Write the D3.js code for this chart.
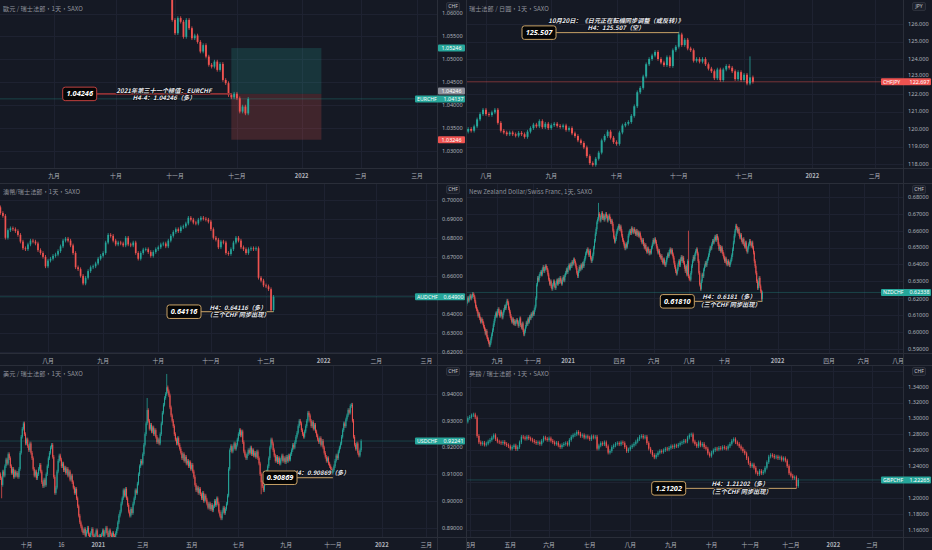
<!DOCTYPE html>
<html>
<head>
<meta charset="utf-8">
<script src="https://cdn.jsdelivr.net/npm/d3@7"></script>
<style>
html,body{margin:0;padding:0;background:#151924;}
svg{display:block;}
text{font-family:"Noto Sans","Noto Sans CJK TC",sans-serif;}
</style>
</head>
<body>
<svg id="chart" width="932" height="550"></svg>
<script>
// ---- data: daily closes (open = previous close) ----
var eurchfStart = "2021-10-29", eurchfOpen = 1.0680;
var eurchfClose = [1.0586,1.0557,1.0590,1.0582,1.0549,1.0586,1.0568,1.0546,1.0552,1.0538,1.0517,1.0531,1.0506,1.0488,1.0484,1.0495,1.0477,1.0490,1.0455,1.0448,1.0422,1.0417,1.0425,1.0415,1.0386,1.0397,1.0382,1.04137];
var eurchfSpikes = [];
var eurchfTicks = [1.030,1.035,1.040,1.045,1.050,1.055,1.060];
var eurchfMonths = [["2021-09-01","九月"],["2021-10-01","十月"],["2021-11-01","十一月"],["2021-12-01","十二月"],["2022-01-03","2022"],["2022-02-01","二月"],["2022-03-01","三月"]];

var chfjpyStart = "2021-07-23", chfjpyOpen = 119.85;
var chfjpyClose = [120.00,119.90,120.15,120.55,120.85,121.10,
  120.85,120.80,120.95,121.10,120.35, 119.90,119.80,119.70,119.80,119.70,
  119.62,119.78,119.70,119.55,119.85, 120.05,120.25,120.15,120.45,120.10, 120.30,120.05,
  120.22,120.30,120.18, 120.12,120.20,119.95,120.05,119.75, 119.60,119.35,119.20,118.95,118.45,
  118.05,117.95,118.30,118.65,
  119.35,119.60,119.85,119.50,119.25,119.15,119.80,120.20,120.30,120.40,120.75,121.30,122.10,122.35,
  123.00,123.70,124.00,124.20,124.40,124.00,123.80,123.65,124.10,123.60,124.50,124.70,125.40,124.80,
  125.10,124.60,124.50,123.90,124.00,123.85,124.00,123.70,123.45,123.30,122.90,123.40,122.80,123.40,
  123.60,123.50,123.30,122.85,123.25,122.80,123.10,122.60,122.95,122.697];
var chfjpySpikes = [[71,125.56],[95,124.15],[42,117.85]];
var chfjpyTicks = [118,119,120,121,122,123,124,125,126];
var chfjpyMonths = [["2021-08-02","八月"],["2021-09-01","九月"],["2021-10-01","十月"],["2021-11-01","十一月"],["2021-12-01","十二月"],["2022-01-03","2022"],["2022-02-01","二月"]];

var audchfStart = "2021-07-06", audchfOpen = 0.6960;
var audchfClose = [0.6930,0.6915,0.6800,0.6840,0.6850,0.6845,0.6835,0.6815,0.6780,0.6745,
  0.6740,0.6765,0.6785,0.6780,0.6770,0.6735,0.6720,0.6700,0.6650,0.6680,
  0.6690,0.6705,0.6712,0.6730,0.6755,0.6785,0.6795,0.6785,0.6760,0.6720,
  0.6645,0.6635,0.6600,0.6560,0.6590,0.6625,0.6645,0.6650,0.6665,0.6690,
  0.6705,0.6720,0.6775,0.6815,0.6810,0.6785,0.6765,0.6775,0.6770,0.6760,
  0.6800,0.6765,0.6760,0.6775,0.6720,0.6690,0.6720,0.6738,0.6740,0.6725,
  0.6705,0.6725,0.6740,0.6750,0.6765,0.6770,0.6755,0.6785,0.6810,0.6830,
  0.6845,0.6835,0.6855,0.6860,0.6875,0.6905,0.6895,0.6880,0.6875,0.6895,
  0.6905,0.6900,0.6895,0.6885,0.6845,0.6800,0.6790,0.6750,0.6780,0.6775,
  0.6720,0.6715,0.6740,0.6775,0.6800,0.6785,0.6750,0.6740,0.6720,0.6740,
  0.6745,0.6740,0.6745,0.6590,0.6575,0.6550,0.6545,0.6530,0.6420,0.6490];
var audchfSpikes = [[108,0.6412]];
var audchfTicks = [0.62,0.63,0.64,0.65,0.66,0.67,0.68,0.69,0.70];
var audchfMonths = [["2021-08-02","八月"],["2021-09-01","九月"],["2021-10-01","十月"],["2021-11-01","十一月"],["2021-12-01","十二月"],["2022-01-03","2022"],["2022-02-01","二月"],["2022-03-01","三月"]];

var nzdchfStart = "2020-07-08", nzdchfOpen = 0.6190;
var nzdchfClose = [0.6165,0.6180,0.6200,0.6185,0.6205,0.6215,0.6198,0.6210,0.6225,0.6218,0.6205,
  0.6180,0.6150,0.6135,0.6120,0.6095,0.6105,0.6080,0.6060,0.6075,0.6065,
  0.6050,0.6030,0.6015,0.5990,0.6005,0.5970,0.5955,0.5940,0.5920,0.5935,0.5960,
  0.5985,0.6010,0.6040,0.6065,0.6090,0.6110,0.6095,0.6125,0.6135,
  0.6110,0.6095,0.6120,0.6105,0.6085,0.6110,0.6130,0.6150,0.6140,0.6165,0.6185,0.6170,
  0.6140,0.6120,0.6095,0.6080,0.6060,0.6075,0.6050,0.6065,0.6045,0.6060,
  0.6070,0.6055,0.6035,0.6060,0.6080,0.6040,0.6025,0.6050,0.6010,0.5985,
  0.6005,0.6030,0.6055,0.6045,0.6075,0.6060,0.6090,0.6080,0.6105,0.6095,0.6115,0.6105,0.6130,0.6150,
  0.6200,0.6280,0.6320,0.6305,0.6330,0.6345,
  0.6355,0.6340,0.6370,0.6385,0.6360,0.6375,0.6390,0.6380,0.6365,
  0.6340,0.6310,0.6285,0.6300,0.6270,0.6255,0.6280,0.6300,0.6275,0.6260,0.6290,
  0.6305,0.6285,0.6310,0.6295,0.6320,0.6300,0.6285,0.6310,0.6325,0.6305,0.6335,0.6350,
  0.6370,0.6355,0.6380,0.6395,0.6375,0.6400,0.6390,0.6415,0.6405,0.6430,0.6420,0.6400,0.6380,
  0.6350,0.6330,0.6360,0.6385,0.6370,0.6395,0.6380,0.6405,0.6390,0.6420,
  0.6440,0.6465,0.6480,0.6490,0.6470,0.6455,0.6480,0.6440,0.6420,0.6435,
  0.6460,0.6500,0.6540,0.6580,0.6610,0.6650,0.6670,
  0.6700,0.6690,0.6660,0.6680,0.6705,0.6675,0.6690,0.6665,0.6680,0.6700,0.6685,0.6660,0.6675,0.6690,0.6670,0.6650,0.6660,0.6640,
  0.6600,0.6560,0.6535,0.6550,
  0.6580,0.6600,0.6615,0.6630,0.6610,0.6625,0.6600,0.6570,0.6545,
  0.6530,0.6510,0.6495,0.6520,0.6505,0.6530,
  0.6570,0.6590,0.6600,0.6585,0.6615,0.6600,0.6590,0.6610,0.6595,0.6580,0.6600,0.6575,0.6590,0.6570,0.6585,0.6560,0.6545,
  0.6530,0.6545,0.6520,0.6500,0.6515,0.6490,0.6475,0.6495,0.6480,0.6465,0.6480,0.6470,
  0.6500,0.6520,0.6545,0.6530,0.6550,0.6535,0.6510,
  0.6490,0.6470,0.6480,0.6455,0.6440,0.6450,0.6425,0.6410,0.6430,0.6405,0.6395,0.6415,
  0.6440,0.6460,0.6450,0.6475,0.6490,0.6470,0.6485,0.6460,0.6440,
  0.6410,0.6385,0.6360,0.6345,0.6370,
  0.6400,0.6420,0.6395,0.6430,0.6445,0.6420,0.6440,0.6410,0.6385,
  0.6360,0.6390,0.6340,0.6420,0.6330,0.6315,0.6310,
  0.6350,0.6390,0.6420,0.6445,0.6430,0.6460,0.6480,0.6490,0.6465,
  0.6420,0.6350,0.6280,0.6255,
  0.6300,0.6340,0.6330,0.6370,0.6390,0.6410,0.6395,0.6420,0.6435,
  0.6455,0.6480,0.6500,0.6495,0.6520,0.6540,0.6530,0.6550,0.6565,0.6545,0.6570,0.6555,
  0.6520,0.6490,0.6505,0.6480,0.6500,0.6475,0.6460,
  0.6440,0.6420,0.6435,0.6410,0.6400,0.6420,0.6405,0.6395,0.6415,0.6430,0.6455,
  0.6490,0.6530,0.6570,0.6600,0.6630,0.6615,
  0.6595,0.6610,0.6580,0.6560,0.6575,0.6545,0.6530,0.6550,0.6520,0.6505,0.6530,0.6490,0.6475,0.6500,
  0.6520,0.6540,0.6525,0.6510,0.6530,0.6500,0.6470,
  0.6420,0.6390,0.6350,0.6300,0.6260,0.6290,0.6320,0.6270,0.6240,0.6195,0.62338];
var nzdchfSpikes = [[165,0.6765],[277,0.6600],[369,0.6181]];
var nzdchfTicks = [0.59,0.60,0.61,0.62,0.63,0.64,0.65,0.66,0.67,0.68];
var nzdchfMonths = [["2020-09-01","九月"],["2020-11-02","十一月"],["2021-01-01","2021"],["2021-04-01","四月"],["2021-06-01","六月"],["2021-08-02","八月"],["2021-10-01","十月"],["2022-01-03","2022"],["2022-04-01","四月"],["2022-06-01","六月"],["2022-08-01","八月"]];

var usdchfStart = "2020-08-28", usdchfOpen = 0.9100;
var usdchfClose = [0.9085,0.9060,0.9110,0.9095, 0.9130,0.9155,0.9140,0.9175,0.9160,
  0.9130,0.9105,0.9120,0.9090,0.9110,0.9095, 0.9105,0.9090,0.9120, 0.9180,0.9240,0.9270,0.9290,
  0.9250,0.9215,0.9230,0.9205, 0.9190,0.9215,0.9180,0.9160, 0.9120,0.9095,0.9110,0.9085,0.9100,
  0.9120,0.9135,0.9110, 0.9070,0.9055,0.9080,0.9060, 0.9100,0.9130,0.9160,0.9180,0.9200,0.9210,0.9165,
  0.9090,0.9030,0.9050, 0.9110,0.9150,0.9170,0.9155, 0.9130,0.9140,0.9115,0.9125,0.9105,0.9120,
  0.9095,0.9110,0.9080,0.9095,0.9070, 0.9050,0.9030,0.9045,0.9010,0.8980, 0.8945,0.8920,0.8905,0.8890,
  0.8880,0.8895,0.8870,0.8885,0.8900,0.8875,0.8860,0.8880,0.8895,0.8870,0.8855,0.8875,0.8890,0.8865,0.8850,0.8870,0.8860,
  0.8875,0.8890,0.8870,0.8885,0.8900,0.8880,0.8865,0.8890,0.8875,0.8860,0.8880,0.8870,
  0.8865,0.8880,0.8895, 0.8920,0.8945,0.8960,0.8990,0.9010, 0.9040,0.9020,0.9045,0.9010,0.8985,
  0.8960,0.8945,0.8970,0.8955, 0.8990,0.9010,0.9040,0.9030,0.9065, 0.9100,0.9130,0.9150,0.9140,0.9175,0.9210,
  0.9250,0.9290,0.9340,0.9300,0.9270, 0.9285,0.9260,0.9275,0.9250,0.9265,0.9240,0.9220, 0.9230,0.9215,0.9250,
  0.9290,0.9330,0.9360,0.9385,0.9400,0.9425,0.9410,0.9395, 0.9350,0.9320,0.9300,0.9280,0.9250,
  0.9230,0.9215,0.9235,0.9210,0.9195,0.9180, 0.9160,0.9175,0.9150,0.9165,0.9140,0.9150,
  0.9130,0.9145,0.9120,0.9135,0.9110,0.9090, 0.9060,0.9040,0.9050,0.9030,0.9045,0.9025,
  0.9010,0.9030,0.9000,0.9020,0.9005,0.8990, 0.8975,0.8990,0.8970,0.8985,0.8965,0.8980,
  0.9000,0.8985,0.9010,0.8990,0.8960,0.8945,0.8935, 0.8960,0.8975,0.8955,0.8970,0.8990,0.9020,
  0.9120,0.9190,0.9205, 0.9185,0.9200,0.9215,0.9195,0.9210,0.9230, 0.9250,0.9265,0.9245,0.9260,0.9220,
  0.9185,0.9170,0.9160,0.9175, 0.9190,0.9180,0.9200,0.9175,0.9190,0.9170, 0.9180,0.9165,0.9185,0.9160,0.9140,
  0.9100,0.9070,0.9055,0.9040, 0.9065,0.9090,0.9110,0.9130,0.9160, 0.9200,0.9230,0.9215,
  0.9190,0.9170,0.9150,0.9165,0.9145, 0.9160,0.9140,0.9155,0.9170,0.9150,0.9160,
  0.9145,0.9165,0.9150,0.9170,0.9155,0.9175, 0.9190,0.9210,0.9200,0.9220,0.9240,0.9255,
  0.9280,0.9300,0.9290,0.9265,0.9250, 0.9240,0.9260,0.9280,0.9300, 0.9330,0.9320,0.9300,
  0.9280,0.9295,0.9270,0.9285,0.9260,0.9245,0.9230, 0.9220,0.9235,0.9210,0.9225,0.9200,0.9180,
  0.9165,0.9150,0.9160,0.9140,0.9130,0.9120, 0.9105,0.9115,0.9130, 0.9150,0.9170,0.9160,0.9185,0.9200,0.9215,
  0.9240,0.9265,0.9290,0.9280,0.9305,0.9320, 0.9340,0.9330,0.9355,0.9360,0.9300, 0.9240,0.9210,0.9195,
  0.9215,0.9180,0.9170, 0.9190,0.92241];
var usdchfSpikes = [[1,0.9010],[135,0.9385],[153,0.9475],[240,0.9025]];
var usdchfTicks = [0.89,0.90,0.91,0.92,0.93,0.94];
var usdchfMonths = [["2020-10-01","十月"],["2020-11-16","16"],["2021-01-01","2021"],["2021-03-01","三月"],["2021-05-03","五月"],["2021-07-01","七月"],["2021-09-01","九月"],["2021-11-01","十一月"],["2022-01-03","2022"],["2022-03-01","三月"]];

var gbpchfStart = "2021-03-31", gbpchfOpen = 1.2960;
var gbpchfClose = [1.3005,1.3020,1.3040,1.3050,1.3015, 1.2780,1.2700,1.2680,1.2695,1.2670,
  1.2685,1.2710,1.2730,1.2760,1.2790, 1.2740,1.2710,1.2700,1.2690,1.2705,
  1.2680,1.2665,1.2650,1.2620,1.2640, 1.2660,1.2615,1.2640,1.2700,1.2770,
  1.2760,1.2745,1.2770,1.2750,1.2735, 1.2720,1.2705,1.2690,1.2700,1.2680,
  1.2720,1.2760,1.2745,1.2730,1.2750, 1.2720,1.2700,1.2680,1.2695,1.2660,
  1.2640,1.2665,1.2680,1.2690,1.2670, 1.2730,1.2770,1.2790,1.2800,1.2830,
  1.2810,1.2780,1.2790,1.2760,1.2775, 1.2760,1.2740,1.2775,1.2760,1.2770,
  1.2620,1.2660,1.2690,1.2675,1.2700, 1.2650,1.2570,1.2590,1.2640,1.2660,
  1.2680,1.2690,1.2675,1.2700,1.2690, 1.2640,1.2590,1.2610,1.2640,1.2660,
  1.2680,1.2710,1.2740,1.2770,1.2780, 1.2760,1.2770,1.2690,1.2620,1.2580,
  1.2540,1.2510,1.2540,1.2570,1.2590, 1.2580,1.2600,1.2620,1.2610,1.2630,
  1.2650,1.2640,1.2660,1.2650,1.2670, 1.2690,1.2700,1.2720,1.2710,1.2760,
  1.2790,1.2800,1.2710,1.2680,1.2650, 1.2700,1.2660,1.2680,1.2640,1.2620,
  1.2560,1.2530,1.2570,1.2600,1.2620, 1.2610,1.2630,1.2620,1.2640,1.2630,
  1.2620,1.2650,1.2680,1.2720,1.2740, 1.2700,1.2680,1.2650,1.2620,1.2590,
  1.2560,1.2500,1.2440,1.2400,1.2420, 1.2380,1.2320,1.2300,1.2340,1.2310,
  1.2330,1.2380,1.2450,1.2520,1.2540, 1.2530,1.2510,1.2520,1.2500,1.2510,
  1.2480,1.2500,1.2470,1.2400,1.2310, 1.2280,1.2250,1.2260,1.2150,1.22265];
var gbpchfSpikes = [[178,1.2120]];
var gbpchfTicks = [1.16,1.18,1.20,1.22,1.24,1.26,1.28,1.30,1.32,1.34,1.36];
var gbpchfMonths = [["2021-04-01","四月"],["2021-05-03","五月"],["2021-06-01","六月"],["2021-07-01","七月"],["2021-08-02","八月"],["2021-09-01","九月"],["2021-10-01","十月"],["2021-11-01","十一月"],["2021-12-01","十二月"],["2022-01-03","2022"],["2022-02-01","二月"]];

// ---- layout ----
var W = 932, H = 550;
var colX = [0, 466], rowY = [0, 183, 365], rowH = [183, 182, 185], plotHs = [168, 170, 172];
var plotW = 437;
var UP = "#26a69a", DOWN = "#ef5350", GOLD = "#c9a266";
var GRID = "#1e2231", BORDER = "#2a2e39", TXT = "#aeb1ba";

var panels = [
  {col:0,row:0,title:"歐元 / 瑞士法郎，1天，SAXO",unit:"CHF",axisStart:"2021-08-05",x0:0.5,ppb:2.815,
   yCal:[1.03,151,1.06,13.5],dec:5,ticks:eurchfTicks,months:eurchfMonths,
   start:eurchfStart,open:eurchfOpen,close:eurchfClose,spikes:eurchfSpikes,
   tags:[{value:1.05246,color:UP},{value:1.04246,color:"#8c8f99",dy:-3},{name:"EURCHF",value:1.04137,color:UP},{value:1.03246,color:DOWN}],
   posBox:{from:"2021-11-29",to:"2022-01-12",target:1.05246,entry:1.04246,stop:1.03246},
   note:{value:1.04246,boxX:62.7,end:"2021-11-29",border:"#c0403f",line:"#8e3134",lineW:1.6,textX:164,
         lines:["2021年第三十一个極值：EURCHF","H4-4：1.04246（多）"],dy:[-1.3,5.9]}},
  {col:1,row:0,title:"瑞士法郎 / 日圓，1天，SAXO",unit:"JPY",axisStart:"2021-07-23",x0:2.2,ppb:2.966,
   yCal:[118,164,126,24],dec:3,ticks:chfjpyTicks,months:chfjpyMonths,
   start:chfjpyStart,open:chfjpyOpen,close:chfjpyClose,spikes:chfjpySpikes,
   tags:[{name:"CHFJPY",value:122.697,color:DOWN}],
   note:{value:125.507,boxX:56,end:"2021-11-01",border:GOLD,line:GOLD,lineW:1,textX:150,
         lines:["10月20日：《日元正在転機同步调整（或反转）》","H4：125.507（空）"],dy:[-9.8,-2.2]}},
  {col:0,row:1,title:"澳幣/瑞士法郎，1天，SAXO",unit:"CHF",axisStart:"2021-07-06",x0:0.4,ppb:2.506,
   yCal:[0.62,169,0.70,16.7],dec:5,ticks:audchfTicks,months:audchfMonths,
   start:audchfStart,open:audchfOpen,close:audchfClose,spikes:audchfSpikes,
   tags:[{name:"AUDCHF",value:0.64900,color:UP}],
   note:{value:0.64116,boxX:167,end:"2021-12-06",border:GOLD,line:GOLD,lineW:1,textX:238,
         lines:["H4：0.64116（多）","（三个CHF 同步出现）"],dy:[-1.8,5.6]}},
  {col:1,row:1,title:"New Zealand Dollar/Swiss Franc, 1天, SAXO",unit:"CHF",axisStart:"2020-07-08",x0:0.02,ppb:0.803,
   yCal:[0.59,165.7,0.68,14],dec:5,ticks:nzdchfTicks,months:nzdchfMonths,
   start:nzdchfStart,open:nzdchfOpen,close:nzdchfClose,spikes:nzdchfSpikes,
   tags:[{name:"NZDCHF",value:0.62338,color:UP}],
   note:{value:0.6181,boxX:194.3,end:"2021-12-07",border:GOLD,line:GOLD,lineW:1,textX:263,
         lines:["H4：0.6181（多）","（三个CHF 同步出现）"],dy:[-2.2,5.6]}},
  {col:0,row:2,title:"美元 / 瑞士法郎，1天，SAXO",unit:"CHF",axisStart:"2020-08-28",x0:0.56,ppb:1.086,
   yCal:[0.89,162.7,0.94,29],dec:5,ticks:usdchfTicks,months:usdchfMonths,
   start:usdchfStart,open:usdchfOpen,close:usdchfClose,spikes:usdchfSpikes,
   tags:[{name:"USDCHF",value:0.92241,color:UP}],
   note:{value:0.90869,boxX:263,end:"2021-11-01",border:GOLD,line:GOLD,lineW:1,textX:321,
         lines:["H4：0.90869（多）"],dy:[-3]}},
  {col:1,row:2,title:"英鎊 / 瑞士法郎，1天，SAXO",unit:"CHF",axisStart:"2021-03-31",x0:1.85,ppb:1.846,
   yCal:[1.16,164.7,1.34,21.7],dec:5,ticks:gbpchfTicks,months:gbpchfMonths,
   start:gbpchfStart,open:gbpchfOpen,close:gbpchfClose,spikes:gbpchfSpikes,
   tags:[{name:"GBPCHF",value:1.22265,color:UP}],
   note:{value:1.21202,boxX:185.7,end:"2021-12-06",border:GOLD,line:GOLD,lineW:1,textX:274,
         lines:["H4：1.21202（多）","（三个CHF 同步出现）"],dy:[-2.2,5.6]}}
];

var DAY = 86400000;
function parseDay(s){ var p = s.split("-"); return Date.UTC(+p[0], +p[1]-1, +p[2]); }
// number of weekdays from start up to (not including) the given day = bar index of that day
function tradingIndex(start, s){
  var t = parseDay(start), end = parseDay(s), n = 0;
  while (t < end){
    var wd = new Date(t).getUTCDay();
    if (wd !== 0 && wd !== 6) n++;
    t += DAY;
  }
  return n;
}

var svg = d3.select("#chart");
svg.append("rect").attr("width", W).attr("height", H).attr("fill", "#151924");

panels.forEach(function(p, pi){
  var plotH = plotHs[p.row];
  var g = svg.append("g").attr("transform", "translate(" + colX[p.col] + "," + rowY[p.row] + ")");
  var x = d3.scaleLinear().domain([0, 1]).range([p.x0, p.x0 + p.ppb]);
  var y = d3.scaleLinear().domain([p.yCal[0], p.yCal[2]]).range([p.yCal[1], p.yCal[3]]);
  var xd = function(s){ return x(tradingIndex(p.axisStart, s)); };
  var fmt = d3.format("." + p.dec + "f");

  g.append("clipPath").attr("id", "clip" + pi)
    .append("rect").attr("width", plotW).attr("height", plotH);
  g.append("clipPath").attr("id", "tclip" + pi)
    .append("rect").attr("y", plotH).attr("width", plotW).attr("height", rowH[p.row] - plotH);

  var plot = g.append("g").attr("clip-path", "url(#clip" + pi + ")");

  // grid
  plot.selectAll(".hg").data(p.ticks).enter().append("line")
    .attr("x1", 0).attr("x2", plotW)
    .attr("y1", function(d){ return Math.round(y(d)) + 0.5; })
    .attr("y2", function(d){ return Math.round(y(d)) + 0.5; })
    .attr("stroke", GRID).attr("stroke-width", 1);
  plot.selectAll(".vg").data(p.months).enter().append("line")
    .attr("y1", 0).attr("y2", plotH)
    .attr("x1", function(d){ return Math.round(xd(d[0])) + 0.5; })
    .attr("x2", function(d){ return Math.round(xd(d[0])) + 0.5; })
    .attr("stroke", GRID).attr("stroke-width", 1);

  // position box (long setup)
  if (p.posBox){
    var b = p.posBox, bx1 = xd(b.from), bx2 = xd(b.to);
    plot.append("rect").attr("x", bx1).attr("width", bx2 - bx1)
      .attr("y", y(b.target)).attr("height", y(b.entry) - y(b.target))
      .attr("fill", UP).attr("fill-opacity", 0.2);
    plot.append("rect").attr("x", bx1).attr("width", bx2 - bx1)
      .attr("y", y(b.entry)).attr("height", y(b.stop) - y(b.entry))
      .attr("fill", DOWN).attr("fill-opacity", 0.2);
  }

  // current price lines
  p.tags.forEach(function(t){
    if (!t.name) return;
    plot.append("line").attr("x1", 0).attr("x2", plotW)
      .attr("y1", y(t.value)).attr("y2", y(t.value))
      .attr("stroke", t.color).attr("stroke-opacity", t.color === DOWN ? 0.45 : 0.3).attr("stroke-width", 1);
  });

  // candles
  var first = tradingIndex(p.axisStart, p.start);
  var bars = p.close.map(function(c, i){
    var o = i === 0 ? p.open : p.close[i - 1];
    return {i: first + i, o: o, c: c, hi: Math.max(o, c), lo: Math.min(o, c), sh: null, sl: null};
  });
  p.spikes.forEach(function(s){
    var b = bars[s[0]];
    if (s[1] > b.hi) b.sh = s[1]; else b.sl = s[1];
  });
  var bw = Math.max(1, p.ppb * 0.66);
  plot.selectAll(".wick").data(bars).enter().append("line")
    .attr("x1", function(d){ return x(d.i); })
    .attr("x2", function(d){ return x(d.i); })
    .attr("y1", function(d){ return d.sh !== null ? y(d.sh) : y(d.hi) - 1.8; })
    .attr("y2", function(d){ return d.sl !== null ? y(d.sl) : y(d.lo) + 1.8; })
    .attr("stroke", function(d){ return d.c >= d.o ? UP : DOWN; })
    .attr("stroke-width", p.ppb < 1.5 ? 0.75 : 0.8);
  plot.selectAll(".body").data(bars).enter().append("rect")
    .attr("x", function(d){ return x(d.i) - bw / 2; })
    .attr("width", bw)
    .attr("y", function(d){ return y(d.hi); })
    .attr("height", function(d){ return Math.max(0.8, y(d.lo) - y(d.hi)); })
    .attr("fill", function(d){ return d.c >= d.o ? UP : DOWN; });

  // annotation: line, text, then value box
  var n = p.note, ny = y(n.value), bwN = 34, bhN = 13.5;
  plot.append("line").attr("x1", n.boxX + bwN).attr("x2", xd(n.end))
    .attr("y1", ny).attr("y2", ny)
    .attr("stroke", n.line).attr("stroke-width", n.lineW);
  n.lines.forEach(function(s, k){
    plot.append("text").attr("x", n.textX).attr("y", ny + n.dy[k])
      .attr("text-anchor", "middle")
      .style("font-family", "'Noto Sans CJK SC','Noto Sans',sans-serif")
      .style("font-size", "6.2px").style("font-weight", "bold").style("font-style", "italic")
      .style("paint-order", "stroke").attr("stroke", "#0b0d13").attr("stroke-width", 1.4)
      .attr("fill", "#e6e8ee").text(s);
  });
  var decimals = String(n.value).split(".")[1].length;
  plot.append("rect").attr("x", n.boxX).attr("y", ny - bhN / 2)
    .attr("width", bwN).attr("height", bhN).attr("rx", 2.5)
    .attr("fill", "#050505").attr("stroke", n.border).attr("stroke-width", 1);
  plot.append("text").attr("x", n.boxX + bwN / 2).attr("y", ny + 2.6)
    .attr("text-anchor", "middle").attr("fill", "#ffffff")
    .style("font-size", "7.4px").style("font-weight", "bold").style("font-style", "italic")
    .text(n.value.toFixed(Math.max(decimals, p.dec)));

  // title
  g.append("text").attr("x", 3).attr("y", 11)
    .style("font-family", "'Noto Sans CJK TC','Noto Sans',sans-serif")
    .style("font-size", "6.2px").attr("fill", TXT).attr("fill-opacity", 0.8)
    .text(p.title);

  // borders
  g.append("line").attr("x1", plotW + 0.5).attr("x2", plotW + 0.5).attr("y1", 0).attr("y2", rowH[p.row])
    .attr("stroke", BORDER);
  g.append("line").attr("x1", 0).attr("x2", 466).attr("y1", plotH + 0.5).attr("y2", plotH + 0.5)
    .attr("stroke", BORDER);

  // price axis labels: hidden under a tag / the unit box, nudged clear when just beside a tag
  var tagYs = p.tags.map(function(t){ return y(t.value) + (t.dy || 0); });
  var shown = [];
  p.ticks.forEach(function(d){
    var yy = y(d), hidden = yy < 9;
    tagYs.forEach(function(ty){
      var dist = yy - ty;
      if (Math.abs(dist) <= 4.5) hidden = true;
      else if (Math.abs(dist) < 6.6) yy = ty + (dist > 0 ? 6.6 : -6.6);
    });
    if (!hidden) shown.push({v: d, y: yy});
  });
  g.selectAll(".yl").data(shown).enter().append("text")
    .attr("x", plotW + 5).attr("y", function(d){ return d.y + 1.8; })
    .style("font-size", "5.6px").attr("fill", TXT)
    .text(function(d){ return fmt(d.v); });

  // time axis labels
  g.append("g").attr("clip-path", "url(#tclip" + pi + ")")
    .selectAll(".xl").data(p.months).enter().append("text")
    .attr("x", function(d){ return xd(d[0]); })
    .attr("y", plotH + 10)
    .attr("text-anchor", "middle")
    .style("font-family", "'Noto Sans CJK TC','Noto Sans',sans-serif")
    .style("font-size", "5.8px")
    .style("font-weight", function(d){ return /^\d{4}$/.test(d[1]) ? "bold" : "normal"; })
    .attr("fill", TXT)
    .text(function(d){ return d[1]; });

  // axis tags
  p.tags.forEach(function(t, k){
    var ty = tagYs[k], th = 7;
    if (t.name){
      g.append("rect").attr("x", plotW - 22).attr("y", ty - th / 2).attr("width", 50).attr("height", th)
        .attr("rx", 1).attr("fill", t.color);
      g.append("text").attr("x", plotW - 20).attr("y", ty + 1.9)
        .style("font-size", "5.2px").attr("fill", "#ffffff").text(t.name);
      g.append("text").attr("x", plotW + 26.5).attr("y", ty + 1.9).attr("text-anchor", "end")
        .style("font-size", "5.4px").attr("fill", "#ffffff").text(fmt(t.value));
    } else {
      g.append("rect").attr("x", plotW + 1).attr("y", ty - th / 2).attr("width", 27).attr("height", th)
        .attr("rx", 1).attr("fill", t.color);
      g.append("text").attr("x", plotW + 14.5).attr("y", ty + 1.9).attr("text-anchor", "middle")
        .style("font-size", "5.4px").attr("fill", "#ffffff").text(fmt(t.value));
    }
  });

  // unit box
  g.append("rect").attr("x", plotW + 9.5).attr("y", 2.5).attr("width", 13).attr("height", 8)
    .attr("rx", 1.5).attr("fill", "#1c202b").attr("stroke", "#3a3e4a").attr("stroke-width", 0.6);
  g.append("text").attr("x", plotW + 16).attr("y", 8.4).attr("text-anchor", "middle")
    .style("font-size", "5px").attr("fill", "#c8cad0").text(p.unit);
});

// panel separators
svg.append("line").attr("x1", 466.5).attr("x2", 466.5).attr("y1", 0).attr("y2", H).attr("stroke", BORDER);
[183, 365].forEach(function(v){
  svg.append("line").attr("x1", 0).attr("x2", W).attr("y1", v + 0.5).attr("y2", v + 0.5).attr("stroke", BORDER);
});
</script>
</body>
</html>
